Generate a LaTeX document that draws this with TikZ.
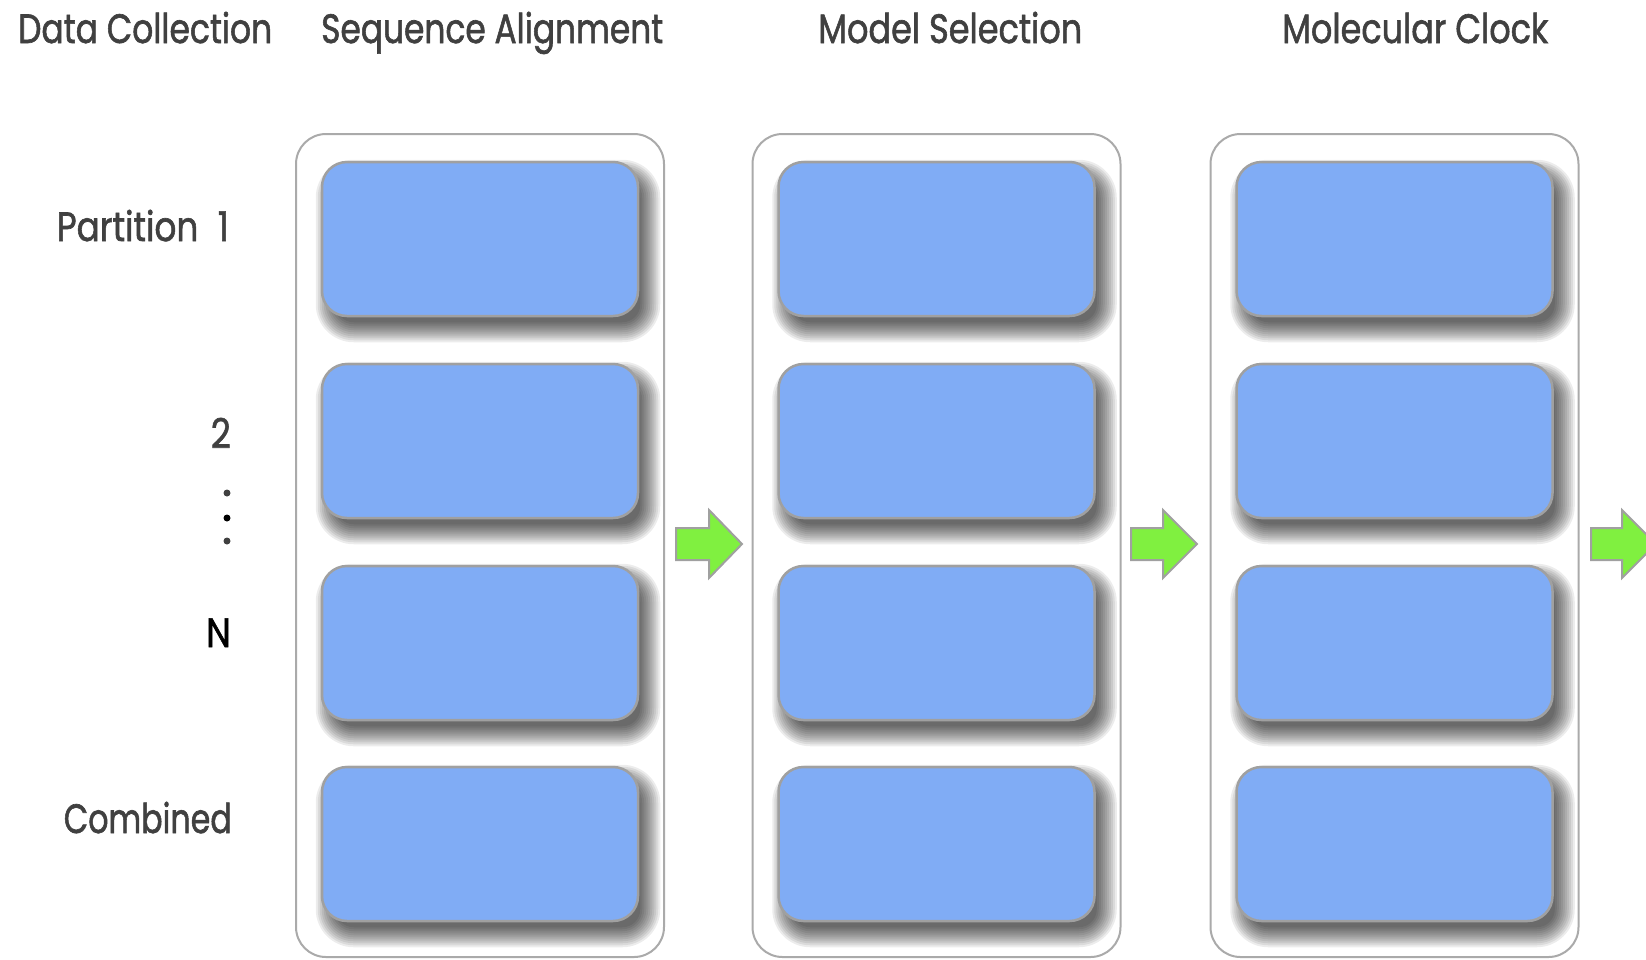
\documentclass[tikz,border=0pt]{standalone}
\usepackage{fontspec}
\setmainfont{Poppins}
\newfontfamily\lblfam{Poppins}[FakeBold=1.6]
\usepackage{graphicx}
\definecolor{boxblue}{HTML}{80ACF5}
\definecolor{arrowgreen}{HTML}{80F040}
\definecolor{edgegray}{HTML}{A0A0A0}
\definecolor{framegray}{HTML}{AAAAAA}
\definecolor{txtgray}{HTML}{404040}
\pgfdeclarelayer{bg}
\pgfdeclarelayer{shadow}
\pgfsetlayers{bg,shadow,main}
\newcommand\lblfont{\lblfam\fontsize{41}{48}\selectfont}
\newcommand\fitw[2]{\resizebox{#1pt}{\height}{\lblfont #2}}
\newcommand\softshadow[1]{%
  \foreach \e in {13,11,...,-7}{%
    \pgfmathsetmacro\rr{max(2,25+\e)}%
    \fill[black, opacity=0.075, rounded corners=\rr pt]
      ([shift={(8-\e,12-\e)}]#1.north west) rectangle ([shift={(8+\e,12+\e)}]#1.south east);
  }}
\begin{document}
\begin{tikzpicture}[x=1pt,y=-1pt,
  frame/.style={draw=framegray, line width=2pt, fill=white, rounded corners=30pt,
    minimum width=368pt, minimum height=823pt, inner sep=0pt},
  cell/.style={draw=edgegray, line width=2.5pt, fill=boxblue, rounded corners=25pt,
    minimum width=316pt, minimum height=154pt, inner sep=0pt},
  title/.style={text=txtgray, inner sep=0pt, anchor=base west},
  rowlbl/.style={text=txtgray, inner sep=0pt, anchor=base east},
  bigarrow/.style={draw=edgegray, line width=2pt, fill=arrowgreen, line join=miter},
  dotmark/.style={circle, inner sep=0pt, minimum size=7pt}]
\useasboundingbox (0,0) rectangle (1646,959);
\clip (0,0) rectangle (1646,959);

% columns with partition cells
\foreach \c/\x in {1/480,2/936.5,3/1394.5}{
  \begin{pgfonlayer}{bg}
    \node[frame] (f\c) at (\x,545.5) {};
  \end{pgfonlayer}
  \foreach \r/\y in {1/239,2/441,3/643,4/844}{
    \node[cell] (c\c\r) at (\x,\y) {};
    \begin{pgfonlayer}{shadow}
      \softshadow{c\c\r}
    \end{pgfonlayer}
  }
}

% green block arrows
\draw[bigarrow] (676,528) -- (709,528) -- (709,510) -- (742,544) -- (709,578) -- (709,560) -- (676,560) -- cycle;
\draw[bigarrow] (1131,528) -- (1163,528) -- (1163,510) -- (1197,544) -- (1163,578) -- (1163,560) -- (1131,560) -- cycle;
\draw[bigarrow] (1591,528) -- (1622,528) -- (1622,510) -- (1656,544) -- (1622,578) -- (1622,560) -- (1591,560) -- cycle;

% column titles
\node[title] (tDC) at (18,43) {\fitw{254}{Data Collection}};
\node[title] (tSA) at (321,43) {\fitw{342}{Sequence Alignment}};
\node[title] (tMS) at (818,43) {\fitw{264}{Model Selection}};
\node[title] (tMC) at (1282,43) {\fitw{266}{Molecular Clock}};

% row labels
\node[rowlbl] (p1) at (229,241) {\fitw{172}{Partition\hspace{0.3em} 1}};
\node[rowlbl] (p2) at (231,448) {\scalebox{0.85}[1]{\lblfont 2}};
\node[rowlbl, text=black] (pN) at (231,647) {\scalebox{0.85}[1]{\lblfont N}};
\node[rowlbl] (pC) at (232,833) {\fitw{168}{Combined}};

% vertical ellipsis
\node[dotmark, fill=txtgray] (d1) at (227,493) {};
\node[dotmark, fill=black] (d2) at (227,518) {};
\node[dotmark, fill=txtgray] (d3) at (227,541) {};
\end{tikzpicture}
\end{document}
